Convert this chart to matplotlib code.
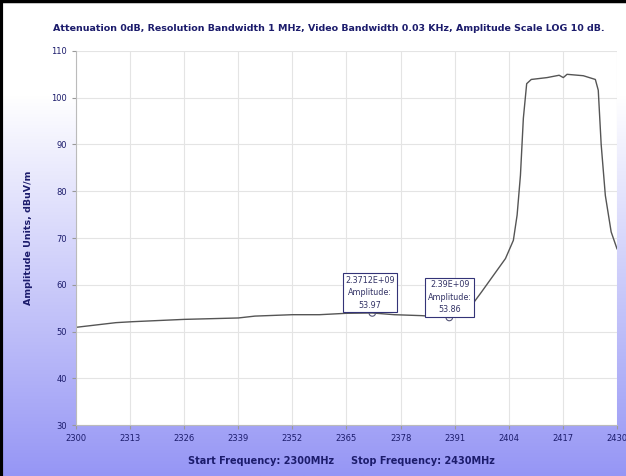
import numpy as np
import matplotlib
matplotlib.use("Agg")
import matplotlib.pyplot as plt

# dane
czestotliwosc = [2300, 2309.6, 2313.5, 2326, 2339, 2343, 2352, 2358.5, 2365, 2371.2,
                 2376.5, 2383, 2389.7, 2392.6, 2394.5, 2397.4, 2400.3, 2403.2, 2405.1,
                 2406, 2406.8, 2407.5, 2408.3, 2409.4, 2413.2, 2416.1, 2417.1, 2418,
                 2421.9, 2424.8, 2425.5, 2426.2, 2427.2, 2428.6, 2430]
amplituda = [50.9, 51.9, 52.1, 52.6, 52.9, 53.3, 53.6, 53.6, 53.9, 53.97,
             53.6, 53.4, 53.0, 53.3, 54.9, 58.4, 62.0, 65.6, 69.5,
             74.9, 83.4, 95.6, 103.0, 103.9, 104.3, 104.8, 104.3, 105.0,
             104.7, 103.9, 101.6, 90.0, 79.1, 71.3, 67.7]

znaczniki_x = [2371.2, 2389.7]
znaczniki_y = [53.97, 53.0]
znaczniki_opis = ["2.3712E+09\nAmplitude:\n53.97", "2.39E+09\nAmplitude:\n53.86"]
opis_pozycja = [(2370.7, 58.3), (2389.8, 57.3)]

xticks = [2300, 2313, 2326, 2339, 2352, 2365, 2378, 2391, 2404, 2417, 2430]
yticks = [30, 40, 50, 60, 70, 80, 90, 100, 110]

granat = "#1c1c6c"

fig = plt.figure(figsize=(6.26, 4.76), dpi=100)

# tlo - gradient od bialego do fioletowo-niebieskiego
tlo = fig.add_axes([0, 0, 1, 1], zorder=-10)
t = np.linspace(0, 1, 256)
t = np.clip((t - 0.2) / 0.8, 0, 1)
gora = np.array([1.0, 1.0, 1.0])
dol = np.array([150, 150, 245]) / 255
kolory = gora[None, :] * (1 - t[:, None]) + dol[None, :] * t[:, None]
tlo.imshow(kolory[:, None, :], aspect="auto", extent=[0, 1, 0, 1])
tlo.set_xlim(0, 1)
tlo.set_ylim(0, 1)
tlo.axis("off")
# czarna ramka z lewej i u gory
tlo.plot([0.002, 0.002], [0, 1], color="black", linewidth=3)
tlo.plot([0, 1], [0.998, 0.998], color="black", linewidth=2.5)

ax = fig.add_axes([0.1214, 0.107, 0.8642, 0.786])
ax.set_facecolor("white")
ax.plot(czestotliwosc, amplituda, color="#555555", linewidth=1.0)
ax.scatter(znaczniki_x, znaczniki_y, s=22, facecolors="none",
           edgecolors="#555577", linewidths=0.8, zorder=5)

for (px, py), opis in zip(opis_pozycja, znaczniki_opis):
    ax.text(px, py, opis, ha="center", va="center", fontsize=5.8,
            color="#333366", linespacing=1.5,
            bbox=dict(boxstyle="square,pad=0.3", facecolor="white",
                      edgecolor="#333377", linewidth=0.8), zorder=6)

ax.set_xlim(2300, 2430)
ax.set_ylim(30, 110)
ax.set_xticks(xticks)
ax.set_yticks(yticks)
ax.tick_params(labelsize=6, colors="#999999", labelcolor=granat, length=3)
ax.grid(True, color="#e4e4e4", linewidth=0.8)
for s in ["top", "right"]:
    ax.spines[s].set_visible(False)
for s in ["left", "bottom"]:
    ax.spines[s].set_color("#bbbbbb")

fig.text(0.525, 0.941,
         "Attenuation 0dB, Resolution Bandwidth 1 MHz, Video Bandwidth 0.03 KHz, Amplitude Scale LOG 10 dB.",
         ha="center", va="center", fontsize=6.8, fontweight="bold", color=granat)
fig.text(0.046, 0.5, "Amplitude Units, dBuV/m", rotation=90, ha="center",
         va="center", fontsize=6.8, fontweight="bold", color=granat)
fig.text(0.546, 0.031, "Start Frequency: 2300MHz     Stop Frequency: 2430MHz",
         ha="center", va="center", fontsize=7, fontweight="bold", color=granat)

fig.savefig("out.png", dpi=100)
